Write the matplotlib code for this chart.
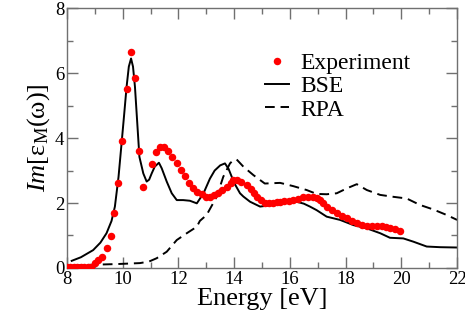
import matplotlib
matplotlib.use("Agg")
import matplotlib.pyplot as plt
from matplotlib.ticker import MultipleLocator

plt.rcParams['font.family'] = ['Liberation Serif', 'DejaVu Serif']
plt.rcParams['mathtext.fontset'] = 'custom'
plt.rcParams['mathtext.rm'] = 'Liberation Serif'
plt.rcParams['mathtext.it'] = 'Liberation Serif:italic'

# Experiment
exp_x = [8.0, 8.12, 8.25, 8.37, 8.5, 8.62, 8.75, 8.87, 9.0, 9.12, 9.25, 9.42, 9.57, 9.70,
         9.84, 9.99, 10.14, 10.29, 10.44, 10.58, 10.74, 11.04, 11.18, 11.34, 11.49,
         11.64, 11.78, 11.94, 12.08, 12.24, 12.38, 12.53, 12.68, 12.83, 12.98, 13.13,
         13.28, 13.43, 13.58, 13.73, 13.88, 13.97, 14.1, 14.25, 14.45, 14.6, 14.7, 14.81,
         14.95, 15.1, 15.25, 15.4, 15.55, 15.65, 15.8, 15.95, 16.12, 16.3, 16.48, 16.66,
         16.84, 16.96, 17.08, 17.2, 17.32, 17.5, 17.68, 17.86, 18.04, 18.22, 18.40,
         18.58, 18.76, 18.94, 19.12, 19.3, 19.45, 19.59, 19.77, 19.95]
exp_y = [0.02, 0.02, 0.02, 0.02, 0.02, 0.02, 0.02, 0.03, 0.15, 0.25, 0.35, 0.6, 0.98, 1.70,
         2.62, 3.92, 5.50, 6.66, 5.86, 3.61, 2.48, 3.19, 3.58, 3.73, 3.73,
         3.61, 3.43, 3.22, 3.02, 2.83, 2.62, 2.47, 2.35, 2.27, 2.20, 2.20,
         2.25, 2.32, 2.40, 2.50, 2.62, 2.71, 2.72, 2.66, 2.55, 2.42, 2.30, 2.20,
         2.08, 1.99, 1.99, 2.01, 2.03, 2.04, 2.05, 2.07, 2.09, 2.13, 2.19, 2.20,
         2.19, 2.15, 2.09, 1.99, 1.89, 1.78, 1.68, 1.60, 1.53, 1.45, 1.37,
         1.32, 1.29, 1.29, 1.29, 1.28, 1.26, 1.24, 1.20, 1.15]

# BSE
bse_x = [8.17, 8.5, 8.94, 9.2, 9.42, 9.6, 9.72, 9.85, 9.96, 10.05, 10.14, 10.22, 10.30, 10.37,
         10.44, 10.52, 10.6, 10.74, 10.86, 10.95, 11.04, 11.15, 11.3, 11.4, 11.58, 11.76,
         11.94, 12.17, 12.41, 12.66, 12.9, 13.13, 13.3, 13.5, 13.67, 13.8, 14.0, 14.21,
         14.33, 14.57, 14.93, 15.2, 15.53, 15.9, 16.24, 16.5, 16.72, 16.96, 17.32, 17.8,
         18.28, 18.76, 19.24, 19.59, 20.07, 20.43, 20.91, 21.39, 22.0]
bse_y = [0.22, 0.33, 0.55, 0.78, 1.07, 1.45, 1.89, 2.8, 3.84, 4.7, 5.58, 6.2, 6.45, 6.2,
         5.58, 4.5, 3.42, 2.91, 2.66, 2.72, 2.91, 3.12, 3.24, 3.07, 2.66, 2.30,
         2.09, 2.09, 2.07, 1.99, 2.30, 2.75, 3.0, 3.16, 3.22, 3.05, 2.62, 2.30,
         2.20, 2.04, 1.89, 1.92, 1.99, 2.00, 2.04, 1.98, 1.89, 1.78, 1.58, 1.48,
         1.32, 1.22, 1.07, 0.93, 0.91, 0.81, 0.66, 0.64, 0.63]

# RPA
rpa_x = [8.17, 8.94, 9.78, 10.62, 10.95, 11.22, 11.58, 11.94, 12.30, 12.66, 12.77, 13.01,
         13.25, 13.37, 13.61, 13.85, 13.97, 14.09, 14.33, 14.69, 15.1, 15.65, 16.12,
         16.6, 16.96, 17.32, 17.68, 18.04, 18.40, 18.76, 19.24, 19.72, 20.19, 20.67,
         21.15, 21.63, 22.0]
rpa_y = [0.07, 0.10, 0.12, 0.15, 0.2, 0.3, 0.5, 0.86, 1.07, 1.27, 1.45, 1.63,
         2.0, 2.19, 2.81, 3.22, 3.32, 3.34, 3.12, 2.86, 2.6, 2.62, 2.52,
         2.40, 2.28, 2.27, 2.30, 2.45, 2.58, 2.40, 2.25, 2.19, 2.14, 1.94,
         1.80, 1.63, 1.48]

x_ticks = [8, 10, 12, 14, 16, 18, 20, 22]
y_ticks = [0, 2, 4, 6, 8]

fig = plt.figure(figsize=(4.65, 3.26), dpi=100)
ax = fig.add_axes([0.144, 0.178, 0.839, 0.797])

ax.plot(exp_x, exp_y, 'o', color='#ff0000', markersize=5.4, markeredgewidth=0,
        label='Experiment', zorder=3)
ax.plot(bse_x, bse_y, '-', color='black', lw=1.4, label='BSE', zorder=2)
ax.plot(rpa_x, rpa_y, '--', color='black', lw=1.4, dashes=(5, 3), label='RPA', zorder=2)

ax.set_xlim(8, 22)
ax.set_ylim(0, 8)
ax.set_xticks(x_ticks)
ax.set_yticks(y_ticks)
ax.xaxis.set_minor_locator(MultipleLocator(1))
ax.yaxis.set_minor_locator(MultipleLocator(1))
ax.tick_params(which='both', direction='in', top=True, right=True, color='#707070',
               labelsize=13.5, pad=2)
ax.tick_params(which='major', length=8, width=1)
ax.tick_params(which='minor', length=4, width=1)
for s in ax.spines.values():
    s.set_color('#707070')
    s.set_linewidth(1.0)

ax.set_xlabel('Energy [eV]', fontsize=19, labelpad=0)
ax.set_ylabel(r'$\mathit{Im}[\mathrm{\varepsilon}_{\mathrm{M}}(\mathrm{\omega})]$',
              fontsize=19, labelpad=2)

leg = ax.legend(loc='upper left', bbox_to_anchor=(0.508, 0.83), frameon=False,
                fontsize=17, handlelength=1.0, handletextpad=0.5,
                labelspacing=0.08, borderaxespad=0, borderpad=0, numpoints=1)

fig.savefig('out.png', dpi=100)
